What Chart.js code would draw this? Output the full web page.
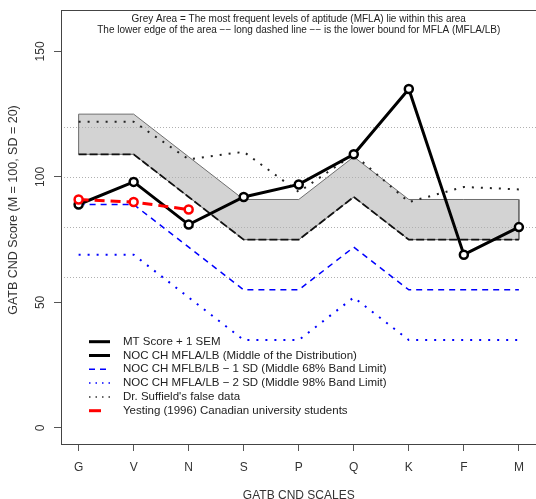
<!DOCTYPE html>
<html>
<head>
<meta charset="utf-8">
<script src="https://cdn.jsdelivr.net/npm/chart.js@4.4.1/dist/chart.umd.min.js"></script>
<style>
  html, body { margin: 0; padding: 0; background: #fff; overflow: hidden; }
  #wrap { width: 543px; height: 499px; position: relative; }
</style>
</head>
<body>
<div id="wrap"><canvas id="gatb"></canvas></div>
<script>
// GATB scales on the x axis
let scaleNames = ['G', 'V', 'N', 'S', 'P', 'Q', 'K', 'F', 'M'];

// series
let mtScore   = [89, 98, 81, 92, 97, 109, 135, 69, 80];
let mflaUpper = [125, 125, 108, 91, 91, 108, 91, 91, 91];
let mflaLower = [109, 109, 92, 75, 75, 92, 75, 75, 75];
let minus1SD  = [89, 89, 72, 55, 55, 72, 55, 55, 55];
let minus2SD  = [69, 69, 52, 35, 35, 52, 35, 35, 35];
let suffield  = [122, 122, 107, 110, 94, 109, 90, 96, 95];
let yesting   = [91, 90, 87];

let yTicks = [0, 50, 100, 150];
let gridLevels = [60, 80, 100, 120];

let topNote = [
  'Grey Area = The most frequent levels of aptitude (MFLA) lie within this area',
  'The lower edge of the area \u2212\u2212 long dashed line \u2212\u2212 is the lower bound for MFLA (MFLA/LB)'
];
let legendLabels = [
  'MT Score + 1 SEM',
  'NOC CH MFLA/LB (Middle of the Distribution)',
  'NOC CH MFLB/LB \u2212 1 SD (Middle 68% Band Limit)',
  'NOC CH MFLA/LB \u2212 2 SD (Middle 98% Band Limit)',
  "Dr. Suffield's false data",
  'Yesting (1996) Canadian university students'
];

function pts(arr) {
  return arr.map(function (v, i) { return { x: i + 1, y: v }; });
}

// closed outline of the grey area: upper edge out, lower edge back
let bandShape = pts(mflaUpper).concat(pts(mflaLower).reverse());
bandShape.push({ x: 1, y: mflaUpper[0] });

const FONT = '"Liberation Sans", Arial, sans-serif';

let decor = {
  id: 'decor',
  afterDatasetDraw: function (chart, args) {
    if (args.index !== 0) return;
    // dotted reference lines over the grey area
    let c = chart.ctx, a = chart.chartArea, y = chart.scales.y;
    c.save();
    c.strokeStyle = '#b0b0b0';
    c.lineWidth = 1;
    c.setLineDash([1, 2]);
    gridLevels.forEach(function (g) {
      let py = Math.round(y.getPixelForValue(g)) + 0.5;
      c.beginPath();
      c.moveTo(a.left, py);
      c.lineTo(a.right, py);
      c.stroke();
    });
    c.restore();
  },
  afterDraw: function (chart) {
    let c = chart.ctx, a = chart.chartArea, y = chart.scales.y;
    c.save();
    // box
    c.strokeStyle = '#444';
    c.lineWidth = 1;
    c.strokeRect(Math.round(a.left) + 0.5, Math.round(a.top) + 0.5,
                 Math.round(a.right - a.left), Math.round(a.bottom - a.top));

    // note at the top
    c.fillStyle = '#222';
    c.font = '10px ' + FONT;
    c.textAlign = 'center';
    c.textBaseline = 'middle';
    let cx = (a.left + a.right) / 2;
    c.fillText(topNote[0], cx, 19);
    c.fillText(topNote[1], cx, 30.5);

    // rotated y tick labels
    c.font = '12px ' + FONT;
    c.fillStyle = '#333';
    yTicks.forEach(function (t) {
      c.save();
      c.translate(41, y.getPixelForValue(t));
      c.rotate(-Math.PI / 2);
      c.fillText(String(t), 0, 0);
      c.restore();
    });
    // y title
    c.save();
    c.font = '12.5px ' + FONT;
    c.translate(14, 210);
    c.rotate(-Math.PI / 2);
    c.fillText('GATB CND Score (M = 100, SD = 20)', 0, 0);
    c.restore();
    // x title
    c.fillText('GATB CND SCALES', cx, 496);

    // legend
    let styles = [
      { color: '#000', width: 3, dash: [], x2: 110 },
      { color: '#000', width: 3, dash: [], x2: 110 },
      { color: '#0000ff', width: 1.5, dash: [6, 5], x2: 110 },
      { color: '#0000ff', width: 1.5, dash: [1.5, 5], x2: 110 },
      { color: '#333', width: 1.5, dash: [1.5, 5], x2: 110 },
      { color: '#ff0000', width: 3, dash: [], x2: 101 }
    ];
    c.font = '11.5px ' + FONT;
    c.textAlign = 'left';
    legendLabels.forEach(function (lab, i) {
      let ly = 341.7 + i * 13.8;
      let s = styles[i];
      c.strokeStyle = s.color;
      c.lineWidth = s.width;
      c.setLineDash(s.dash);
      c.beginPath();
      c.moveTo(89, ly);
      c.lineTo(s.x2, ly);
      c.stroke();
      c.setLineDash([]);
      c.fillStyle = '#222';
      c.fillText(lab, 123, ly);
    });
    c.restore();
  }
};

let ctx = document.getElementById('gatb').getContext('2d');
let chart = new Chart(ctx, {
  type: 'line',
  data: {
    datasets: [{
      // grey MFLA area
      data: bandShape,
      borderColor: '#6e6e6e',
      borderWidth: 1,
      backgroundColor: '#d3d3d3',
      fill: 'shape',
      pointRadius: 0,
      order: 10
    }, {
      // MFLA/LB lower edge
      data: pts(mflaLower),
      borderColor: '#111',
      borderWidth: 1.8,
      borderDash: [8, 3],
      pointRadius: 0,
      order: 9
    }, {
      data: pts(minus2SD),
      borderColor: '#0000ff',
      borderWidth: 2,
      borderDash: [2, 7],
      pointRadius: 0,
      order: 8
    }, {
      data: pts(minus1SD),
      borderColor: '#0000ff',
      borderWidth: 1.5,
      borderDash: [6, 5],
      pointRadius: 0,
      order: 7
    }, {
      data: pts(suffield),
      borderColor: '#222',
      borderWidth: 2,
      borderDash: [2, 7],
      pointRadius: 0,
      order: 6
    }, {
      data: pts(mtScore),
      borderColor: '#000',
      borderWidth: 3,
      pointRadius: 4,
      pointBorderWidth: 2.5,
      pointBorderColor: '#000',
      pointBackgroundColor: '#fff',
      order: 5
    }, {
      data: pts(yesting),
      borderColor: '#ff0000',
      borderWidth: 3,
      borderDash: [10, 6],
      pointRadius: 4,
      pointBorderWidth: 2.5,
      pointBorderColor: '#ff0000',
      pointBackgroundColor: '#fff',
      order: 4
    }]
  },
  options: {
    responsive: true,
    maintainAspectRatio: false,
    animation: false,
    devicePixelRatio: 1,
    elements: { line: { tension: 0 } },
    layout: { padding: { left: 0, top: 7, right: 1, bottom: 0 } },
    plugins: {
      legend: { display: false },
      tooltip: { enabled: false }
    },
    scales: {
      x: {
        type: 'linear',
        min: 0.68,
        max: 9.32,
        afterBuildTicks: function (s) {
          s.ticks = scaleNames.map(function (n, i) { return { value: i + 1 }; });
        },
        afterFit: function (s) { s.height = 55; },
        ticks: {
          autoSkip: false,
          maxRotation: 0,
          padding: 9,
          color: '#333',
          font: { size: 12, family: FONT },
          callback: function (v) { return scaleNames[v - 1]; }
        },
        grid: { drawOnChartArea: false, tickLength: 7, color: '#555' },
        border: { display: false }
      },
      y: {
        min: -6.4,
        max: 166.4,
        afterBuildTicks: function (s) {
          s.ticks = yTicks.map(function (t) { return { value: t }; });
        },
        afterFit: function (s) { s.width = 61; },
        ticks: { color: 'rgba(0,0,0,0)', font: { size: 12, family: FONT } },
        grid: { drawOnChartArea: false, tickLength: 7, color: '#555' },
        border: { display: false }
      }
    }
  },
  plugins: [decor]
});
</script>
</body>
</html>
